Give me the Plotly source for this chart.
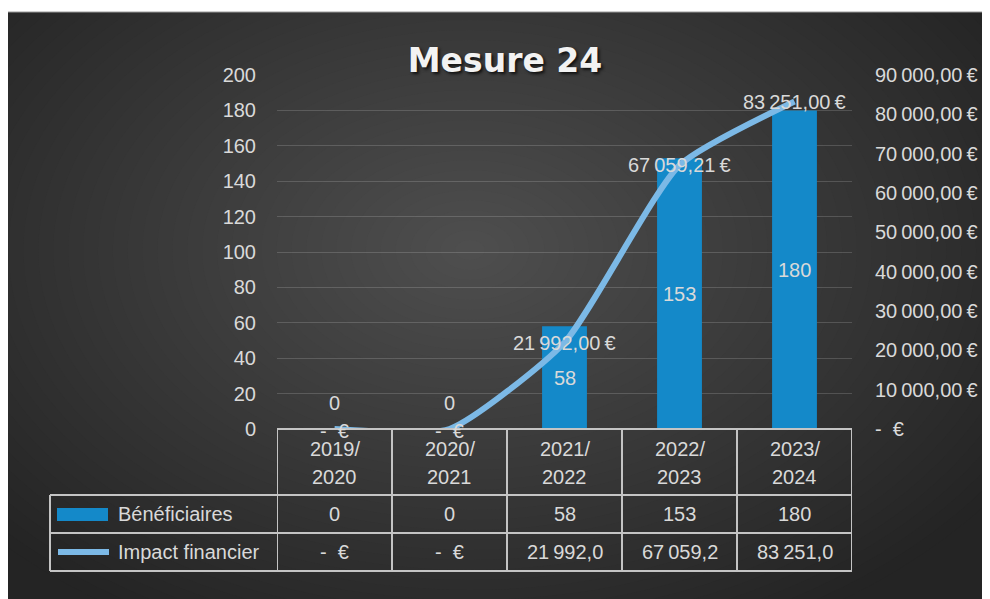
import plotly.graph_objects as go

# data
categories = ["2019/2020", "2020/2021", "2021/2022", "2022/2023", "2023/2024"]
beneficiaires = [0, 0, 58, 153, 180]
impact = [0, 0, 21992.00, 67059.21, 83251.00]
left_ticks = list(range(0, 201, 20))
right_ticks = list(range(0, 90001, 10000))

FONT = "Liberation Sans"
TXT = "#d9d9d9"
BAR = "#1489c9"
LINE = "#7cb9e6"
GRID = "#c4c4c4"

# pixel geometry of the plot area (in screenshot pixels; page body adds 8px)
OFF = 8
L, R, T, B = 277, 852, 75, 429
W, H = R - L, B - T


def px(p):
    return (p - L) / W


def py(p):
    return (B - p) / H


def eur(v, dec=2, sym=True):
    if v == 0:
        return "-  €"
    s = f"{v:,.{dec}f}".replace(",", " ").replace(".", ",").replace(" ", "\u202f")
    return s + ("\u202f€" if sym else "")


x = list(range(len(categories)))

fig = go.Figure()
fig.add_trace(go.Bar(x=x, y=beneficiaires, marker=dict(color=BAR, line=dict(width=0)),
                     name="Bénéficiaires", hoverinfo="skip"))
fig.add_trace(go.Scatter(x=x, y=impact, yaxis="y2", mode="lines",
                         line=dict(color=LINE, width=6, shape="spline", smoothing=0.55),
                         name="Impact financier", hoverinfo="skip"))

shapes = []
# background: dark frame with a soft radial glow (opaque rings, one grey level each)
shapes.append(dict(type="rect", xref="paper", yref="paper", x0=px(0), x1=px(1000), y0=py(0), y1=py(610),
                   fillcolor="#242424", line=dict(width=0), layer="below"))
lo, hi = 36, 78
for g in range(lo, hi + 1):
    s = 1 - (g - lo) / (hi - lo + 1)
    cx, cy, rx, ry = 470, 250, 640 * s, 430 * s
    shapes.append(dict(type="circle", xref="paper", yref="paper",
                       x0=px(cx - rx), x1=px(cx + rx), y0=py(cy + ry), y1=py(cy - ry),
                       fillcolor=f"rgb({g},{g},{g})", line=dict(width=0), layer="below"))
# white page strips around the frame + frame edge
shapes.append(dict(type="rect", xref="paper", yref="paper", x0=px(-20), x1=px(1010), y0=py(-20), y1=py(12),
                   fillcolor="white", line=dict(width=0), layer="below"))
shapes.append(dict(type="rect", xref="paper", yref="paper", x0=px(-20), x1=px(7), y0=py(-20), y1=py(620),
                   fillcolor="white", line=dict(width=0), layer="below"))
shapes.append(dict(type="rect", xref="paper", yref="paper", x0=px(7), x1=px(1000), y0=py(12), y1=py(610),
                   fillcolor="rgba(0,0,0,0)", line=dict(color="#9a9a9a", width=1), layer="below"))
# data table
row_y = [495, 533, 571]
shapes.append(dict(type="line", xref="x", yref="paper", x0=-0.5, x1=len(x) - 0.5, y0=0, y1=0,
                   line=dict(color=GRID, width=2)))
for yy in row_y:
    shapes.append(dict(type="line", xref="paper", yref="paper", x0=px(50), x1=1, y0=py(yy), y1=py(yy),
                       line=dict(color=GRID, width=2)))
for i in range(len(x) + 1):
    shapes.append(dict(type="line", xref="x", yref="paper", x0=i - 0.5, x1=i - 0.5, y0=0, y1=py(571),
                       line=dict(color=GRID, width=2)))
shapes.append(dict(type="line", xref="paper", yref="paper", x0=px(50), x1=px(50), y0=py(495), y1=py(571),
                   line=dict(color=GRID, width=2)))
# legend keys
shapes.append(dict(type="rect", xref="paper", yref="paper", x0=px(57), x1=px(108), y0=py(521), y1=py(508),
                   fillcolor=BAR, line=dict(width=0)))
shapes.append(dict(type="line", xref="paper", yref="paper", x0=px(58), x1=px(109), y0=py(552), y1=py(552),
                   line=dict(color=LINE, width=6)))

ann = []
f = dict(family=FONT, size=20, color=TXT)
base = dict(showarrow=False, font=f, xanchor="center", yanchor="middle")
for i, c in enumerate(categories):
    a, b = c.split("/")
    ann.append(dict(x=i, y=py(449), xref="x", yref="paper", text=a + "/", **base))
    ann.append(dict(x=i, y=py(477), xref="x", yref="paper", text=b, **base))
    ann.append(dict(x=i, y=py(514), xref="x", yref="paper", text=str(beneficiaires[i]), **base))
    ann.append(dict(x=i, y=py(552), xref="x", yref="paper", text=eur(impact[i], 1, False), **base))
    # bar labels
    v = beneficiaires[i]
    ann.append(dict(x=i, y=v / 2, xref="x", yref="y", text=str(v), yshift=0 if v else 26, **base))
    # line labels
    ann.append(dict(x=i, y=impact[i], xref="x", yref="y2", text=eur(impact[i]),
                    yshift=0 if impact[i] else -2, **base))
ann.append(dict(x=px(116), y=py(514), xref="paper", yref="paper", text="Bénéficiaires", xanchor="left",
                yanchor="middle", showarrow=False, font=f))
ann.append(dict(x=px(116), y=py(552), xref="paper", yref="paper", text="Impact financier", xanchor="left",
                yanchor="middle", showarrow=False, font=f))

fig.update_layout(
    width=990, height=599,
    margin=dict(l=L - OFF, r=990 - R + OFF, t=T - OFF, b=599 - B + OFF),
    paper_bgcolor="white", plot_bgcolor="rgba(0,0,0,0)",
    showlegend=False, bargap=0.61,
    title=dict(text="<b>Mesure 24</b>", x=(505 - OFF) / 990, y=1 - (60 - OFF) / 599,
               xanchor="center", yanchor="middle",
               font=dict(family="DejaVu Sans", size=33, color="#f2f2f2", shadow="2px 2px 3px #111")),
    xaxis=dict(range=[-0.5, len(x) - 0.5], showticklabels=False, showgrid=False, zeroline=False,
               showline=False, fixedrange=True),
    yaxis=dict(range=[0, 200], tickvals=left_ticks, showgrid=True, gridcolor="rgba(255,255,255,0.16)",
               gridwidth=1, zeroline=False, showline=False, ticklabelstandoff=20,
               tickfont=dict(family=FONT, size=20, color=TXT)),
    yaxis2=dict(range=[0, 90000], overlaying="y", side="right", tickvals=right_ticks,
                ticktext=[eur(v) for v in right_ticks], showgrid=False, zeroline=False, showline=False,
                ticklabelstandoff=22, tickfont=dict(family=FONT, size=20, color=TXT)),
    shapes=shapes, annotations=ann,
)

fig.write_html("out.html")
